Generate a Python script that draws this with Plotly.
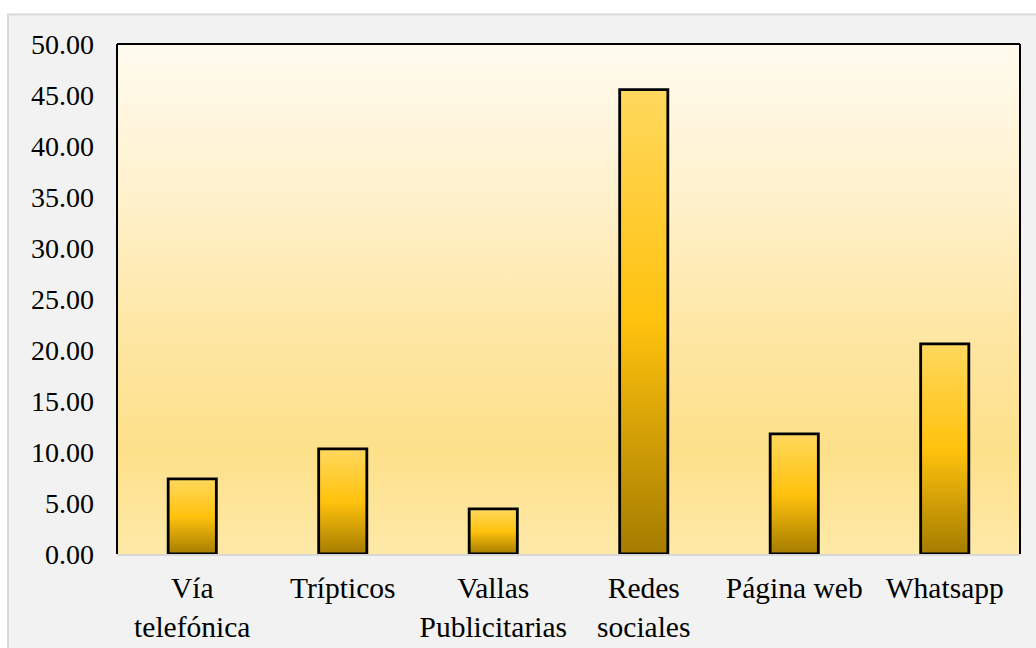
import plotly.graph_objects as go

# Share (%) of respondents by communication channel
categories = ["Vía<br>telefónica", "Trípticos", "Vallas<br>Publicitarias",
              "Redes<br>sociales", "Página web", "Whatsapp"]
values = [7.36, 10.31, 4.42, 45.53, 11.78, 20.60]
y_ticks = [0, 5, 10, 15, 20, 25, 30, 35, 40, 45, 50]
y_tick_text = [f"{v:.2f}" for v in y_ticks]

FONT = "Liberation Serif, Times New Roman, serif"
BAR_WIDTH = 0.32
positions = list(range(len(categories)))

fig = go.Figure()

# Plot-area background: cream at the top fading to warm yellow near the base
fig.add_trace(go.Scatter(
    x=[-0.5, len(categories) - 0.5, len(categories) - 0.5, -0.5, -0.5],
    y=[y_ticks[0], y_ticks[0], y_ticks[-1], y_ticks[-1], y_ticks[0]],
    mode="lines", line=dict(width=0), fill="toself",
    fillgradient=dict(type="vertical", colorscale=[
        [0.0, "#fee9a8"], [0.2, "#fde08a"], [0.45, "#fee7a6"],
        [0.7, "#fff1cc"], [1.0, "#fffbef"]]),
    hoverinfo="skip", showlegend=False,
))

# Bars: gold gradient (dark base, bright middle) with a black outline
for pos, val, name in zip(positions, values, categories):
    x0, x1 = pos - BAR_WIDTH / 2, pos + BAR_WIDTH / 2
    fig.add_trace(go.Scatter(
        x=[x0, x0, x1, x1, x0], y=[0, val, val, 0, 0],
        mode="lines", line=dict(width=2.8, color="#000000"), fill="toself",
        fillgradient=dict(type="vertical", colorscale=[
            [0.0, "#a57c00"], [0.5, "#ffc20d"], [1.0, "#ffd85e"]]),
        name=name.replace("<br>", " "), hoveron="fills",
        showlegend=False,
    ))

fig.update_layout(
    width=1036, height=648,
    margin=dict(l=117, r=16, t=44, b=94),
    paper_bgcolor="#ffffff", plot_bgcolor="rgba(0,0,0,0)",
    font=dict(family=FONT, size=28, color="#000000"),
    xaxis=dict(
        range=[-0.5, len(categories) - 0.5], tickmode="array",
        tickvals=positions, ticktext=categories, showgrid=False,
        zeroline=False, showline=True, linecolor="#d9d9d9", linewidth=2,
        ticks="", ticklabelstandoff=7, automargin=False,
        tickfont=dict(size=29.5),
    ),
    yaxis=dict(
        range=[y_ticks[0], y_ticks[-1]], tickmode="array",
        tickvals=y_ticks, ticktext=y_tick_text, showgrid=False,
        zeroline=False, showline=False, ticks="", ticklabelstandoff=22,
        automargin=False,
    ),
    shapes=[
        # chart area panel
        dict(type="rect", xref="paper", yref="paper", layer="below",
             x0=-0.1207, x1=1.03, y0=-0.25, y1=1.0578,
             fillcolor="#f2f2f2", line=dict(color="#d9d9d9", width=2)),
        # plot-area frame: top, left, right edges
        dict(type="line", xref="paper", yref="paper", x0=0, x1=1, y0=1, y1=1,
             line=dict(color="#000000", width=2)),
        dict(type="line", xref="paper", yref="paper", x0=0, x1=0, y0=0, y1=1,
             line=dict(color="#000000", width=2)),
        dict(type="line", xref="paper", yref="paper", x0=1, x1=1, y0=0, y1=1,
             line=dict(color="#000000", width=2)),
    ],
)

fig.write_html("out.html")
